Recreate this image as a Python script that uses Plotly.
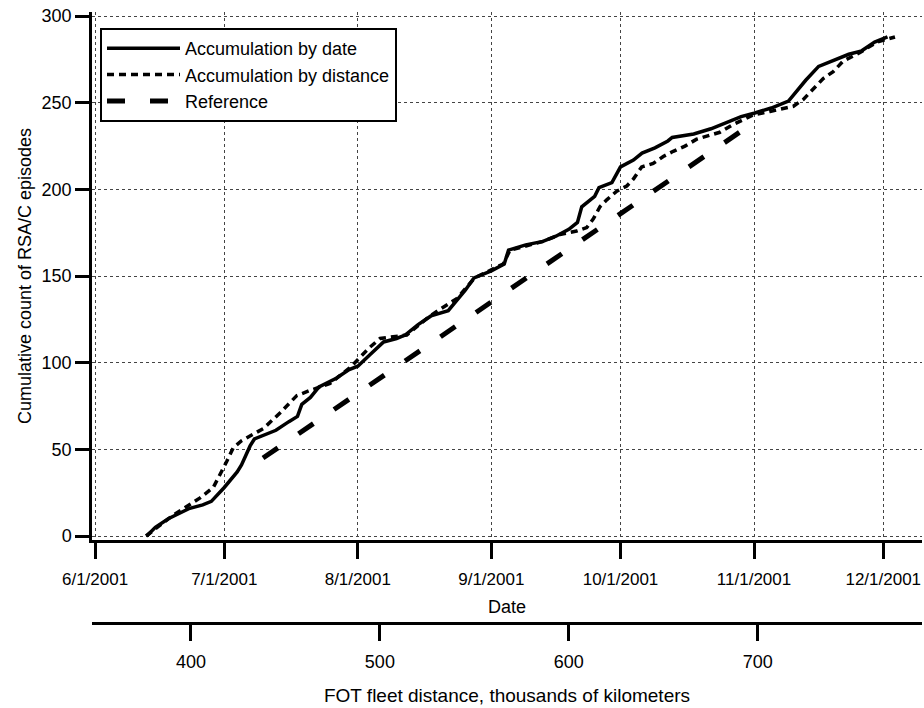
import plotly.graph_objects as go

# ---- data ----
date_x = ["2001-06-13", "2001-06-15", "2001-06-18", "2001-06-23", "2001-06-26", "2001-06-28",
          "2001-07-01", "2001-07-04", "2001-07-05", "2001-07-07", "2001-07-08", "2001-07-13",
          "2001-07-16", "2001-07-18", "2001-07-19", "2001-07-21", "2001-07-23", "2001-07-27",
          "2001-07-30", "2001-08-01", "2001-08-04", "2001-08-07", "2001-08-10", "2001-08-12",
          "2001-08-15", "2001-08-18", "2001-08-22", "2001-08-24", "2001-08-26", "2001-08-28",
          "2001-09-01", "2001-09-04", "2001-09-05", "2001-09-09", "2001-09-13", "2001-09-16",
          "2001-09-19", "2001-09-21", "2001-09-22", "2001-09-25", "2001-09-26", "2001-09-29",
          "2001-10-01", "2001-10-04", "2001-10-06", "2001-10-09", "2001-10-12", "2001-10-13",
          "2001-10-18", "2001-10-22", "2001-10-26", "2001-10-29", "2001-11-01", "2001-11-05",
          "2001-11-09", "2001-11-10", "2001-11-13", "2001-11-16", "2001-11-19", "2001-11-23",
          "2001-11-26", "2001-11-29", "2001-12-02"]
date_count = [0, 5, 10, 16, 18, 20,
              28, 37, 41, 52, 56, 61,
              66, 69, 76, 80, 86, 91,
              96, 98, 105, 112, 114, 116,
              122, 127, 130, 136, 142, 149,
              153, 157, 165, 168, 170, 173,
              177, 181, 190, 196, 201, 204,
              213, 217, 221, 224, 228, 230,
              232, 235, 239, 242, 244, 247,
              251, 254, 263, 271, 274, 278,
              280, 285, 288]

dist_x = [376.2, 390.6, 404.8, 411.8, 418.9, 422.4, 426.8, 438.3, 447.1, 456.0,
          463.0, 473.6, 484.0, 494.8, 500.1, 514.2, 526.5, 540.7, 550.3, 565.3,
          568.9, 586.5, 595.3, 604.2, 609.5, 613.0, 616.5, 620.1, 625.4, 630.7,
          634.2, 638.6, 644.7, 650.0, 655.3, 661.5, 667.7, 673.9, 680.0, 686.2,
          692.4, 697.7, 706.5, 715.4, 718.9, 724.2, 729.5, 734.7, 740.0, 745.2,
          754.2, 763.0, 772.7]
dist_count = [0, 12, 22, 28, 43, 51, 55, 62, 71, 81,
              84, 88, 97, 109, 114, 116, 127, 137, 149, 157,
              165, 170, 174, 176, 178, 183, 190, 194, 199, 202,
              206, 213, 215, 219, 222, 225, 229, 231, 233, 237,
              240, 243, 245, 247, 248, 252, 258, 264, 268, 274,
              279, 285, 288]

ref_x = ["2001-07-10", "2001-10-31"]
ref_count = [45, 237]

y_ticks = [0, 50, 100, 150, 200, 250, 300]
date_ticks = ["2001-06-01", "2001-07-01", "2001-08-01", "2001-09-01",
              "2001-10-01", "2001-11-01", "2001-12-01"]
date_labels = ["6/1/2001", "7/1/2001", "8/1/2001", "9/1/2001",
               "10/1/2001", "11/1/2001", "12/1/2001"]
dist_ticks = [400, 500, 600, 700]

FONT = "Liberation Sans, Arial, Helvetica, sans-serif"

fig = go.Figure()
fig.add_trace(go.Scatter(x=date_x, y=date_count, mode="lines", name="Accumulation by date",
                         line=dict(color="black", width=3.5), xaxis="x", yaxis="y"))
fig.add_trace(go.Scatter(x=dist_x, y=dist_count, mode="lines", name="Accumulation by distance",
                         line=dict(color="black", width=3.5, dash="7px,5px"), xaxis="x2", yaxis="y"))
fig.add_trace(go.Scatter(x=ref_x, y=ref_count, mode="lines", name="Reference",
                         line=dict(color="black", width=5, dash="18px,25px"), xaxis="x", yaxis="y"))

W, H = 924, 708
mt, mb = 12, 0
ph = H - mt - mb
plot_bottom = 540
dist_line = 623

fig.update_layout(
    width=W, height=H,
    margin=dict(l=92, r=2, t=mt, b=mb, autoexpand=False),
    paper_bgcolor="white", plot_bgcolor="white",
    font=dict(family=FONT, size=18, color="black"),
    showlegend=True,
    legend=dict(x=(100 - 92) / 830, y=1 - (28 - mt) / ph, xanchor="left", yanchor="top",
                bordercolor="black", borderwidth=2, bgcolor="white",
                font=dict(size=18), itemwidth=73, tracegroupgap=0),
    xaxis=dict(type="date", range=["2001-05-31 07:00", "2001-12-10"],
               tickmode="array", tickvals=date_ticks, ticktext=date_labels,
               tickfont=dict(size=17), ticklabelstandoff=6,
               showline=True, linecolor="black", linewidth=2.5,
               ticks="outside", ticklen=16, tickwidth=2.5, tickcolor="black",
               showgrid=True, gridcolor="#444", griddash="dot", gridwidth=1,
               zeroline=False, automargin=False,
               title=dict(text="Date", standoff=13, font=dict(size=18)),
               anchor="y", domain=[0, 1]),
    xaxis2=dict(range=[347.6, 787.0], overlaying="x", anchor="free",
                position=(H - mb - dist_line) / ph, side="bottom",
                tickmode="array", tickvals=dist_ticks, tickfont=dict(size=18),
                ticklabelstandoff=6,
                showline=True, linecolor="black", linewidth=2.5,
                ticks="outside", ticklen=16, tickwidth=2.5, tickcolor="black",
                showgrid=False, zeroline=False, automargin=False,
                title=dict(text="FOT fleet distance, thousands of kilometers", standoff=17,
                           font=dict(size=19))),
    yaxis=dict(range=[-2.3, 302.4], domain=[(H - mb - plot_bottom) / ph, 1],
               tickmode="array", tickvals=y_ticks, tickfont=dict(size=18),
               showline=True, linecolor="black", linewidth=2.5,
               ticks="outside", ticklen=14, tickwidth=2.5, tickcolor="black",
               showgrid=True, gridcolor="#444", griddash="dot", gridwidth=1,
               zeroline=False, automargin=False,
               title=dict(text="Cumulative count of RSA/C episodes", standoff=6,
                          font=dict(size=18)),
               anchor="x"),
)

# remove the browser's default 8px body margin so the figure sits at the page origin
fig.write_html("out.html", config={"displayModeBar": False},
               post_script="document.body.style.margin='0px';document.body.style.padding='0px';")
